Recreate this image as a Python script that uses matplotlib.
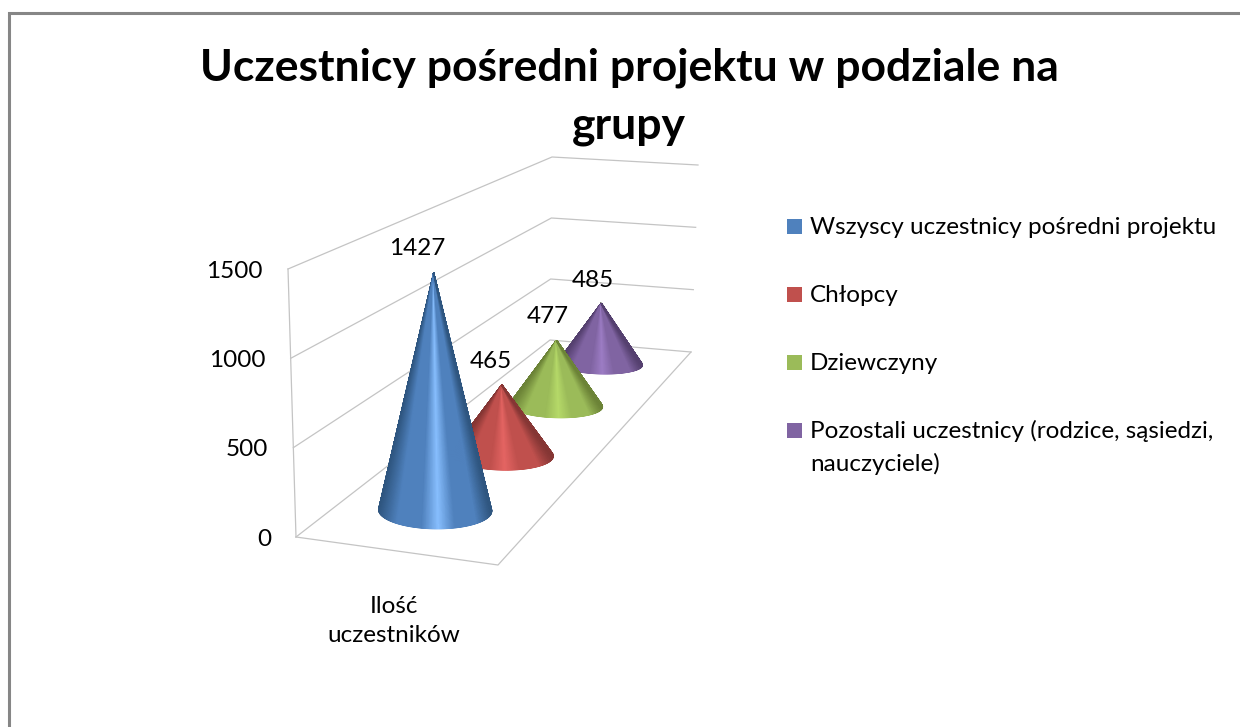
#!/usr/bin/env python3
# -*- coding: utf-8 -*-
import numpy as np
import matplotlib
matplotlib.use('Agg')
import matplotlib.pyplot as plt
from matplotlib.colors import LinearSegmentedColormap
from matplotlib.patches import Rectangle

plt.rcParams['font.family'] = ['Lato', 'DejaVu Sans']

title = 'Uczestnicy pośredni projektu w podziale na\ngrupy'
category = 'Ilość\nuczestników'
series = ['Wszyscy uczestnicy pośredni projektu', 'Chłopcy', 'Dziewczyny',
          'Pozostali uczestnicy (rodzice, sąsiedzi,\nnauczyciele)']
values = [1427, 465, 477, 485]
tick_values = [0, 500, 1000, 1500]
z_max = 1500

# dark, base, light
shades = [('#2f5680', '#4f81bd', '#88bfff'),
          ('#853634', '#c0504d', '#e56563'),
          ('#6c8337', '#9bbb59', '#b6da69'),
          ('#55406f', '#8064a2', '#9d7dc5')]
swatches = ['#4f81bd', '#c0504d', '#9bbb59', '#8064a2']

# corners of the 3d box in picture pixels: front-left, front-right, back-right, back-left
floor_corners = [(296, 537), (498, 565), (691, 352), (550, 340)]
top_corners = [(288, 269), (499, 281), (698, 165), (552, 157)]

# where the cones stand on the floor
cone_u = [0.48, 0.51, 0.51, 0.50]
cone_depth = [0.14, 0.37, 0.62, 0.875]
cone_radius = 0.28
cone_height_scale = 0.97
label_offset = [(-16, -24), (-11, -23), (-9, -24), (-8, -23)]


def homography(corners):
    src = [(0, 0), (1, 0), (1, 1), (0, 1)]
    a, b = [], []
    for (u, v), (x, y) in zip(src, corners):
        a.append([u, v, 1, 0, 0, 0, -u * x, -v * x])
        a.append([0, 0, 0, u, v, 1, -u * y, -v * y])
        b += [x, y]
    return np.append(np.linalg.solve(np.array(a, float), np.array(b, float)), 1).reshape(3, 3)


H_floor = homography(floor_corners)
H_top = homography(top_corners)


def apply_h(H, u, v):
    p = H @ np.array([u, v, np.ones_like(u)], dtype=float)
    return p[:2] / p[2]


def project(u, v, z=0):
    """floor position (u, v) and value z to picture pixels"""
    a = apply_h(H_floor, np.asarray(u, float), np.asarray(v, float))
    b = apply_h(H_top, np.asarray(u, float), np.asarray(v, float))
    return a + (b - a) * z / z_max


def draw_cone(ax, u, depth, value, colors, zorder):
    cmap = LinearSegmentedColormap.from_list(
        'cone', [(0, colors[0]), (0.16, colors[1]), (0.38, colors[1]), (0.53, colors[2]),
                 (0.68, colors[1]), (0.87, colors[1]), (1, colors[0])])
    # walk round the base starting at its back
    t = np.linspace(np.pi / 2, 2.5 * np.pi, 721)
    ex, ey = project(u + cone_radius * np.cos(t), depth + cone_radius / 4.4 * np.sin(t))
    apex = project(u, depth, value * cone_height_scale)
    # keep the front arc between the two tangents from the apex
    angle = np.arctan2(ex - apex[0], ey - apex[1])
    first, last = np.argmin(angle), np.argmax(angle)
    ex, ey = ex[first:last + 1], ey[first:last + 1]
    shade = (ex - ex.min()) / (ex.max() - ex.min())
    X = np.vstack([np.full_like(ex, apex[0]), ex])
    Y = np.vstack([np.full_like(ey, apex[1]), ey])
    ax.pcolormesh(X, Y, np.vstack([shade, shade]), cmap=cmap, vmin=0, vmax=1,
                  shading='gouraud', zorder=zorder)
    return apex


fig = plt.figure(figsize=(12.4, 7.27), dpi=100)
ax = fig.add_axes([0, 0, 1, 1])

# chart border, only top and left are in the crop
ax.plot([8.5, 8.5, 1240], [727, 13, 13], color='#868686', lw=2.2, solid_joinstyle='miter')

ax.text(629, 80, title.split('\n')[0], ha='center', va='baseline', fontsize=32,
        fontweight='bold', color='black')
ax.text(629, 139, title.split('\n')[1], ha='center', va='baseline', fontsize=32,
        fontweight='bold', color='black')

# walls and floor
grid_color = '#c4c4c4'
for tick in tick_values:
    pts = np.array([project(0, 0, tick), project(0, 1, tick), project(1, 1, tick)])
    ax.plot(pts[:, 0], pts[:, 1], color=grid_color, lw=0.9)
    x, y = project(0, 0, tick)
    ax.text(x - 25, y + 2, str(tick), ha='right', va='center', fontsize=17.5, color='black')
edge = np.array([project(0, 0), project(1, 0), project(1, 1)])
ax.plot(edge[:, 0], edge[:, 1], color=grid_color, lw=0.9)
wall = np.array([project(0, 0), project(0, 0, z_max)])
ax.plot(wall[:, 0], wall[:, 1], color=grid_color, lw=0.9)

# far cone first
for i in range(len(values) - 1, -1, -1):
    apex = draw_cone(ax, cone_u[i], cone_depth[i], values[i], shades[i], 3 + len(values) - i)
    ax.text(apex[0] + label_offset[i][0], apex[1] + label_offset[i][1], str(values[i]),
            ha='center', va='center', fontsize=17.5, color='black', zorder=10)

ax.text(394, 621, category, ha='center', va='center', fontsize=17.5, linespacing=1.42, color='black')

# legend
legend_y = [227, 295, 363, 431]
for name, color, y in zip(series, swatches, legend_y):
    ax.add_patch(Rectangle((787, y - 8), 15, 15, facecolor=color, edgecolor='none'))
    for j, line in enumerate(name.split('\n')):
        ax.text(810, y + j * 33, line, ha='left', va='center', fontsize=17.5, color='black')

# pixel coordinates of the picture, y pointing down
ax.set_xlim(0, 1240)
ax.set_ylim(727, 0)
ax.axis('off')

fig.savefig('out.png', dpi=100)
